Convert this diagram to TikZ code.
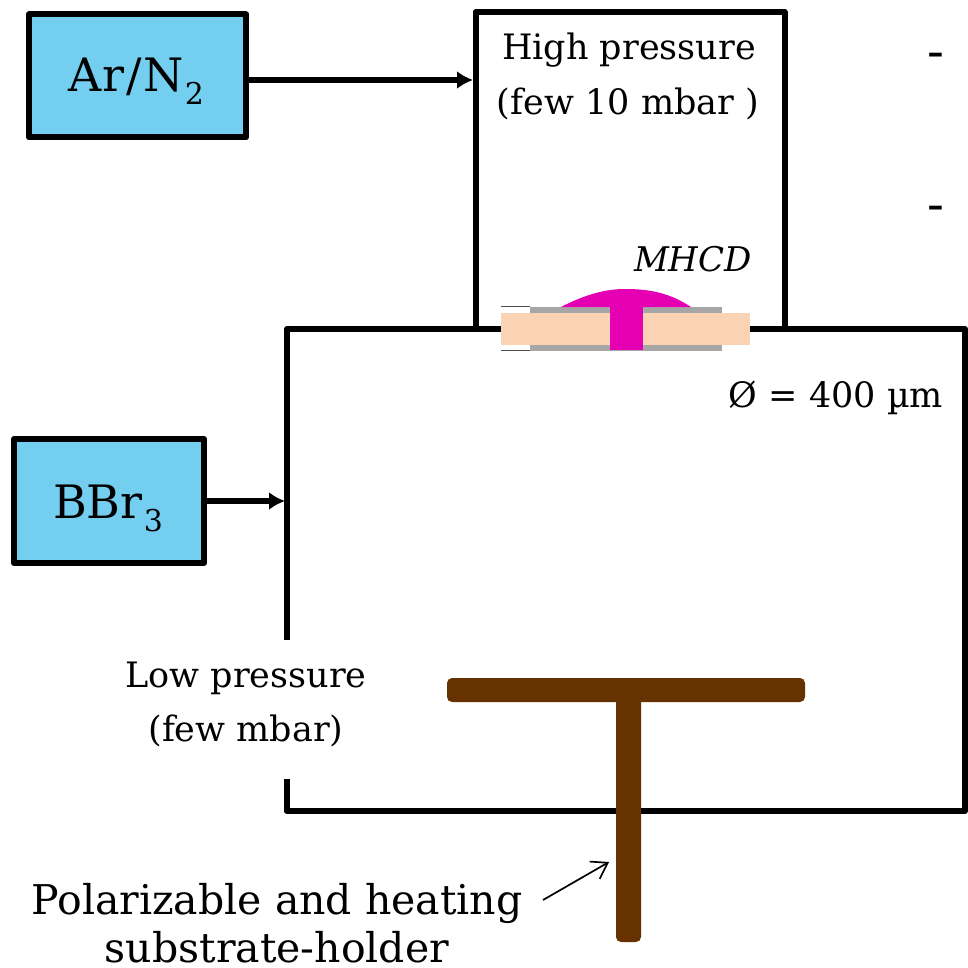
\documentclass[tikz,border=0pt]{standalone}
\usepackage{fontspec}
\setmainfont{DejaVu Serif}
\usetikzlibrary{arrows.meta}
\definecolor{gasblue}{HTML}{74CEF0}
\definecolor{holder}{HTML}{663300}
\definecolor{plasma}{HTML}{E600B4}
\definecolor{dielec}{HTML}{FAD2B4}
\definecolor{metal}{HTML}{A6A6A6}
\newcommand{\subdigit}[1]{\kern1pt\raisebox{-13pt}{\fontsize{30}{34}\selectfont #1}}
\tikzset{
  wall/.style={line width=6pt,line join=round},
  gasbox/.style={draw=black,line width=6pt,line join=round,fill=gasblue,inner sep=0pt},
  flow/.style={line width=5.5pt,-{Latex[length=16pt,width=18pt]}},
  lbl/.style={inner sep=0pt,anchor=base,text=black},
  small/.style={lbl,font=\fontsize{35}{40}\selectfont},
  big/.style={lbl,font=\fontsize{41}{46}\selectfont},
  gastext/.style={lbl,font=\fontsize{46}{52}\selectfont},
  hold/.style={fill=holder,rounded corners=5pt}
}
\begin{document}
\begin{tikzpicture}[x=1pt,y=-1pt]
\useasboundingbox (0,0) rectangle (967,968);
% chambers
\coordinate (hpbl) at (475.5,328);
\coordinate (hptl) at (475.5,12);
\coordinate (hptr) at (784.5,12);
\coordinate (hpbr) at (784.5,328);
\coordinate (lpgap1) at (287,640);
\coordinate (lptl) at (287,329);
\coordinate (lptr) at (965,329);
\coordinate (lpbr) at (965,811);
\coordinate (lpbl) at (286.5,811);
\coordinate (lpgap2) at (286.5,779);
\draw[wall] (hpbl) -- (hptl) -- (hptr) -- (hpbr);
\draw[wall] (lpgap1) -- (lptl) -- (lptr) -- (lpbr) -- (lpbl) -- (lpgap2);
% gas boxes
\node[gasbox,minimum width=217pt,minimum height=123pt] (ar) at (137.5,76) {};
\node[gasbox,minimum width=190pt,minimum height=124pt] (bbr) at (109,501) {};
\node[gastext] (artext) at (136.5,92) {Ar\kern2pt/\kern2ptN\subdigit{2}};
\node[gastext] (bbrtext) at (108,518) {BBr\subdigit{3}};
\coordinate (hpin) at (473,80);
\coordinate (lpin) at (285,501);
\draw[flow] (ar.east |- hpin) -- (hpin);
\draw[flow] (bbr.east) -- (lpin);
% MHCD
\draw[black!70,line width=1pt] (530,306) -- (501,306) (530,350.5) -- (501,350.5);
\fill[white] (501,307) rectangle (530,350);
\fill[metal] (530,306.5) rectangle (722,351);
\fill[dielec] (501,313) rectangle (750,345);
\fill[plasma] (561,307) .. controls (590,292) and (610,289) .. (625,289) .. controls (650,289) and (670,293) .. (691,307) -- cycle;
\fill[plasma] (609.5,305) rectangle (642.5,350);
% holder
\fill[hold] (447,678) rectangle (805,702);
\fill[hold] (616,695) rectangle (641,942);
% labels
\node[small] (hp1) at (629,60) {High pressure};
\node[small] (hp2) at (628,115) {(few 10 mbar )};
\node[small,font=\itshape\fontsize{34}{40}\selectfont] (mhcd) at (693,271) {MHCD};
\node[small] (dia) at (836,407) {Ø = 400 µm};
\node[small] (lp1) at (246,687) {Low pressure};
\node[small] (lp2) at (246,741) {(few mbar)};
\node[big] (ph1) at (277,914) {Polarizable and heating};
\node[big] (ph2) at (277,962) {substrate-holder};
\node[small,font=\fontsize{50}{54}\selectfont] (d1) at (935.5,69) {-};
\node[small,font=\fontsize{50}{54}\selectfont] (d2) at (935.5,222) {-};
\coordinate (tip) at (609,862);
\coordinate (tail) at (543,900);
\draw[line width=1.7pt,-{Straight Barb[length=15pt,width=20pt]}] (tail) -- (tip);
\end{tikzpicture}
\end{document}
